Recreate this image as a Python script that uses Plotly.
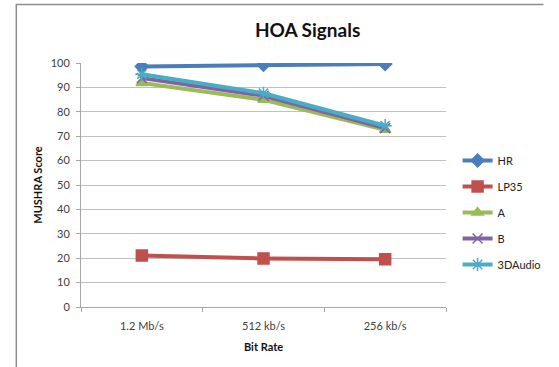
import plotly.graph_objects as go

categories = ["1.2 Mb/s", "512 kb/s", "256 kb/s"]
series_names = ["HR", "LP35", "A", "B", "3DAudio"]
hr = [98.6, 99.3, 99.6]
lp35 = [21.1, 19.9, 19.6]
a = [91.8, 84.9, 72.6]
b = [93.8, 86.6, 73.3]
audio3d = [95.4, 87.6, 74.3]
y_ticks = [0, 10, 20, 30, 40, 50, 60, 70, 80, 90, 100]

values = [hr, lp35, a, b, audio3d]
colors = ["#4A7EBB", "#C0504D", "#9BBB59", "#8064A2", "#4BACC6"]
symbols = ["diamond", "square", "triangle-up", "x-thin-open", "asterisk-open"]
sizes = [10, 11, 10, 10, 11]

font = "Lato, 'Liberation Sans', sans-serif"

fig = go.Figure()
for name, vals, c, s, sz in zip(series_names, values, colors, symbols, sizes):
    fig.add_trace(go.Scatter(
        x=categories, y=vals, name=name, mode="lines+markers",
        line=dict(color=c, width=4),
        marker=dict(symbol=s, size=sz, color=c, line=dict(color=c, width=1.5)),
        legendgroup=name,
    ))

W, H = 559, 367
L, R, T, B = 81, 100, 63, 60
pw, ph = W - L - R, H - T - B

def px(xpix):
    return (xpix - L) / pw

def py(ypix):
    return (H - B - ypix) / ph

fig.add_shape(type="path", xref="paper", yref="paper",
              path=f"M {px(14)} {py(368)} L {px(14)} {py(4.5)} L {px(560)} {py(4.5)}",
              line=dict(color="#8c8c8c", width=1.5))

fig.update_layout(
    width=W, height=H,
    margin=dict(l=L, r=R, t=T, b=B),
    paper_bgcolor="white", plot_bgcolor="white",
    font=dict(family=font, size=11, color="#404040"),
    title=dict(text="<b>HOA Signals</b>", x=px(289), xanchor="center",
               y=1 - 30 / H, yanchor="middle",
               font=dict(family=font, size=19, color="#111111")),
    showlegend=True,
    legend=dict(x=px(471), xanchor="left", y=py(146), yanchor="top",
                font=dict(family=font, size=11, color="#222222"),
                tracegroupgap=7, bgcolor="rgba(0,0,0,0)"),
    xaxis=dict(
        type="category", range=[-0.5, 2.5],
        showline=True, linecolor="#a6a6a6", linewidth=1,
        ticks="outside", tickson="boundaries", ticklen=4, tickcolor="#a6a6a6",
        ticklabelstandoff=9,
        showgrid=False,
        title=dict(text="<b>Bit Rate</b>", font=dict(family=font, size=11, color="#111111"), standoff=12),
        tickfont=dict(size=11, color="#404040"),
    ),
    yaxis=dict(
        range=[0, 100], tickvals=y_ticks,
        showline=True, linecolor="#a6a6a6", linewidth=1,
        ticks="outside", ticklen=4, tickcolor="#a6a6a6",
        ticklabelstandoff=4,
        showgrid=True, gridcolor="#c0c0c0", gridwidth=1,
        zeroline=False,
        title=dict(text="<b>MUSHRA Score</b>", font=dict(family=font, size=11, color="#111111"), standoff=5),
        tickfont=dict(size=11, color="#404040"),
    ),
)

fig.write_html("out.html", config={"displayModeBar": False},
               post_script="document.body.style.margin='0';")
